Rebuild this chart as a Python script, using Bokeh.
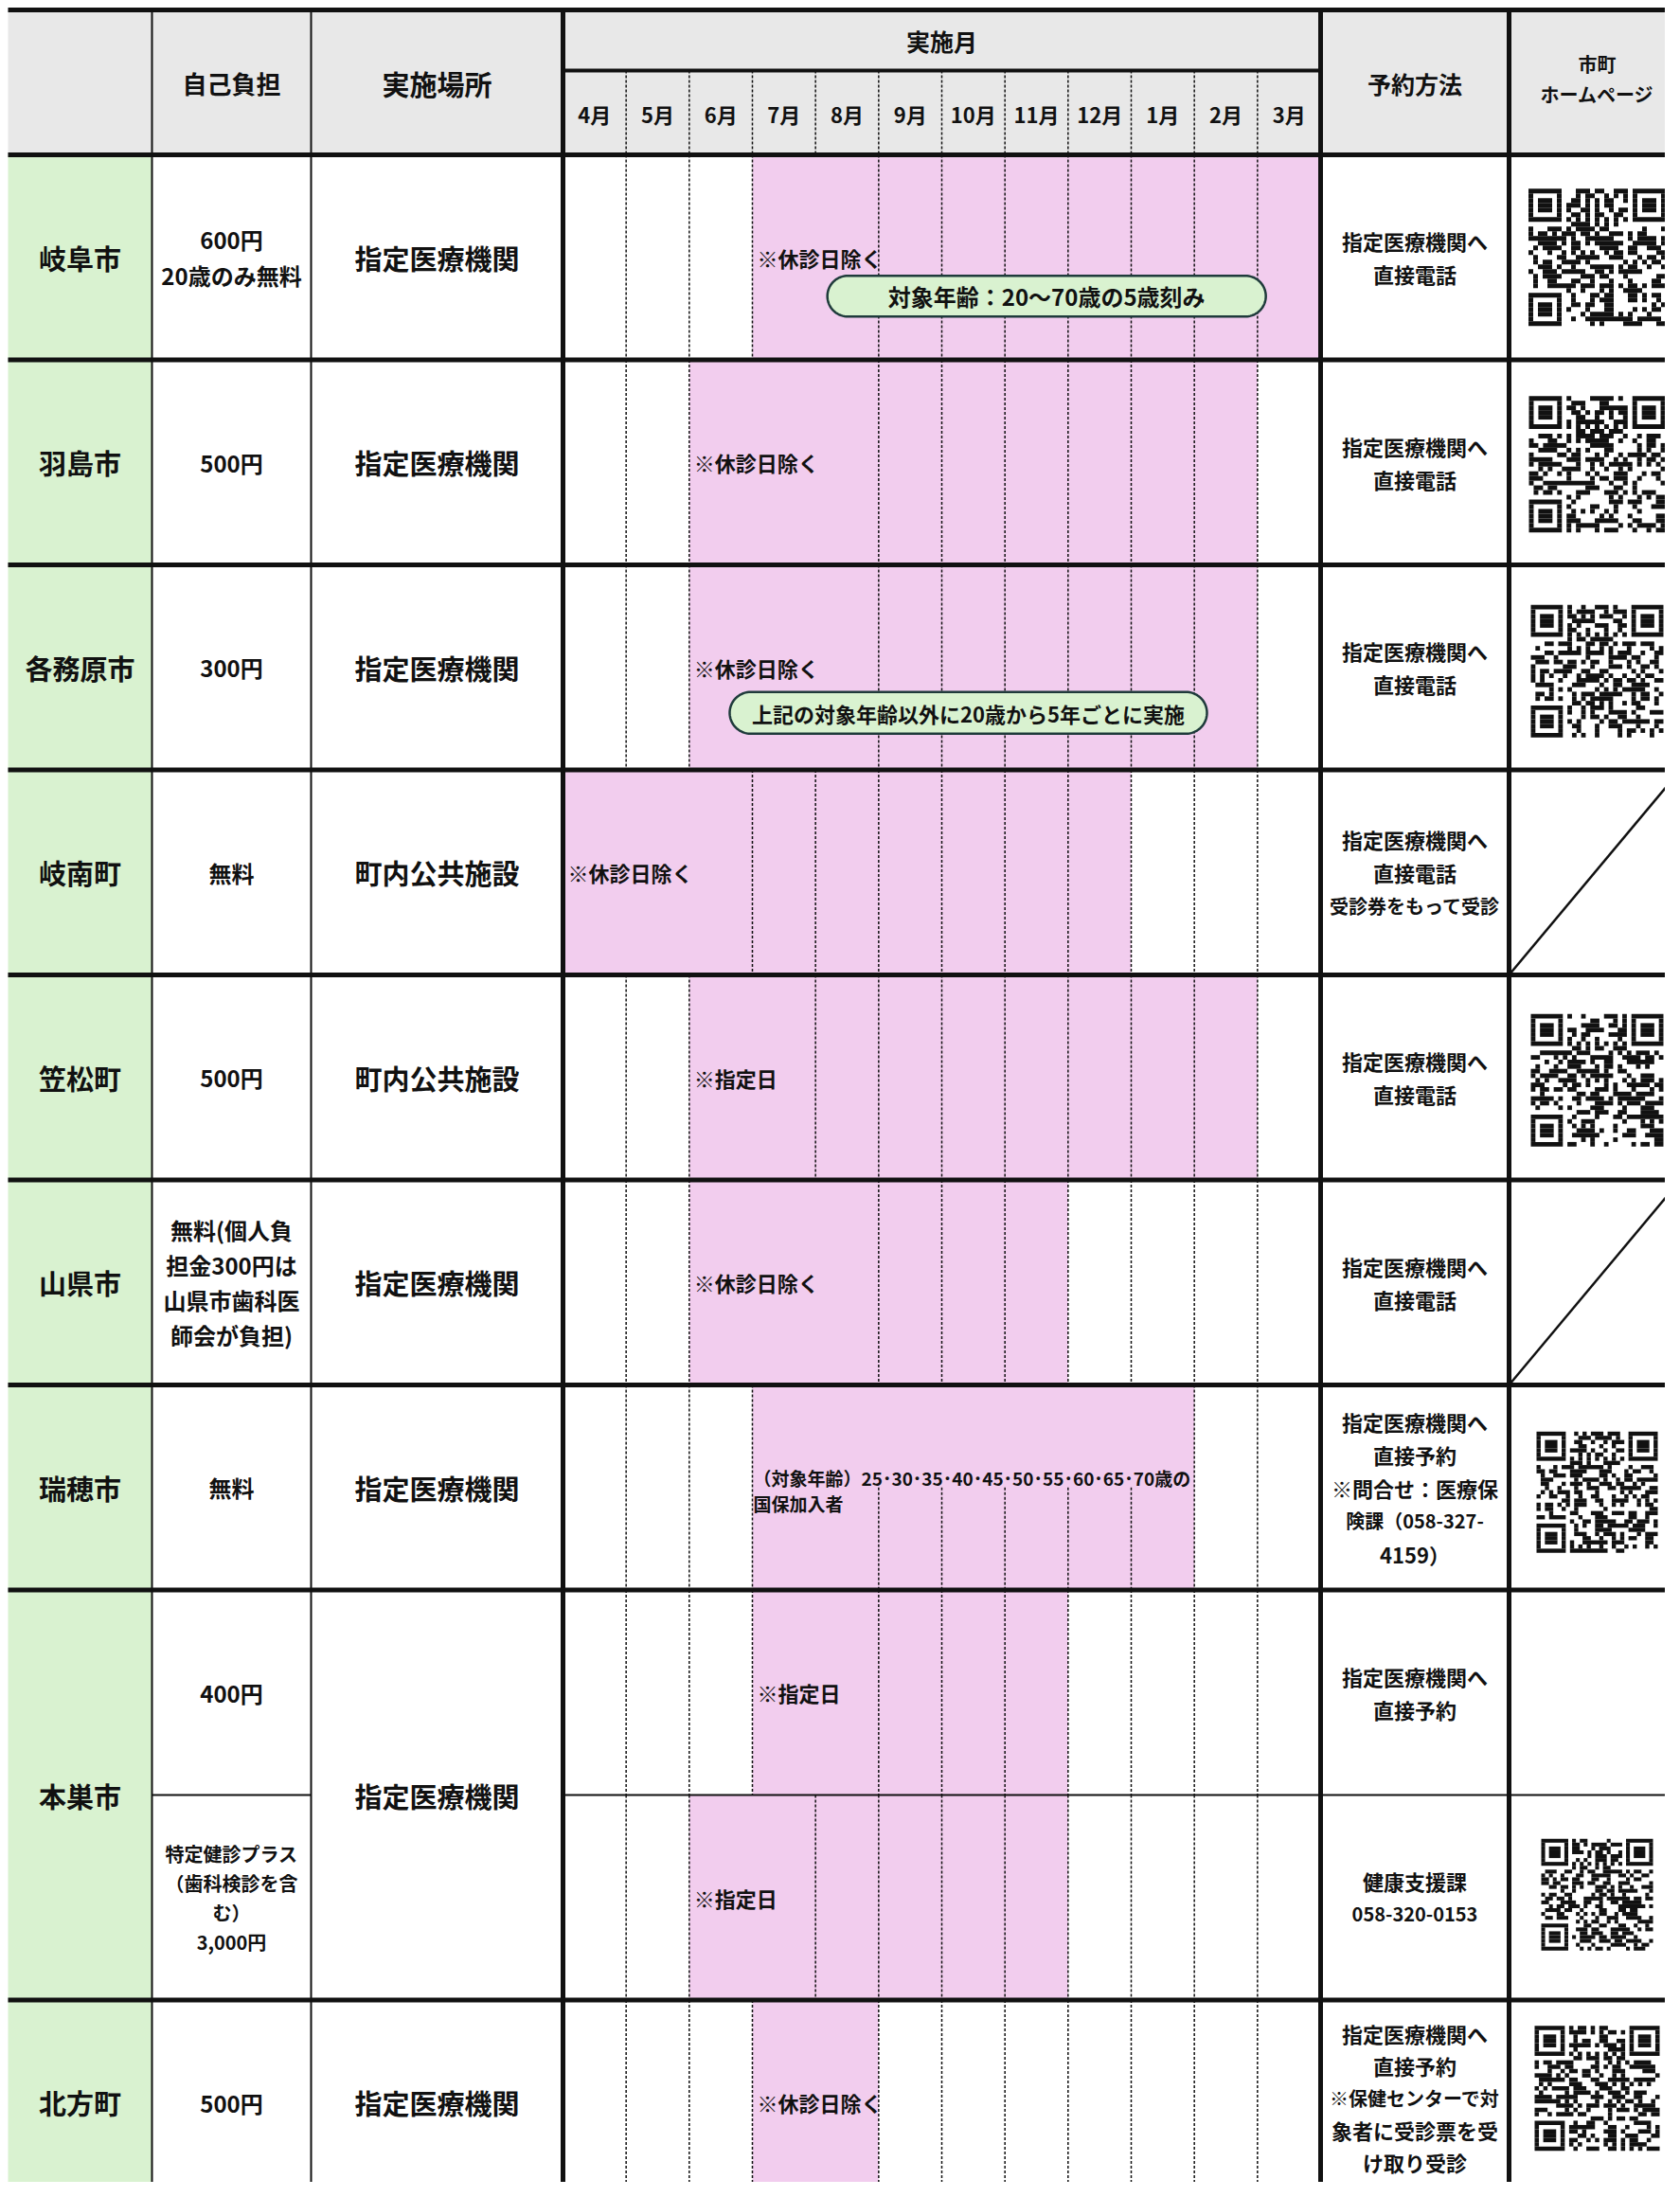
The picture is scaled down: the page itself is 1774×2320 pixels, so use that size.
from bokeh.plotting import figure
from bokeh.models import Range1d
from bokeh.embed import file_html
from bokeh.resources import INLINE
from bokeh.core.properties import value
import numpy as np

# ---------------- data ----------------
months = ["4月", "5月", "6月", "7月", "8月", "9月", "10月", "11月", "12月", "1月", "2月", "3月"]
municipalities = ["岐阜市", "羽島市", "各務原市", "岐南町", "笠松町", "山県市", "瑞穂市", "本巣市", "北方町"]
muni_rows = [1, 1, 1, 1, 1, 1, 1, 2, 1]
places = ["指定医療機関", "指定医療機関", "指定医療機関", "町内公共施設", "町内公共施設",
          "指定医療機関", "指定医療機関", "指定医療機関", "指定医療機関"]

# one entry per table line (本巣市 has two lines)
band_muni = [0, 1, 2, 3, 4, 5, 6, 7, 7, 8]
fees = [["600円", "20歳のみ無料"], ["500円"], ["300円"], ["無料"], ["500円"],
        ["無料(個人負", "担金300円は", "山県市歯科医", "師会が負担)"], ["無料"], ["400円"],
        ["特定健診プラス", "（歯科検診を含", "む）", "3,000円"], ["500円"]]
period_start = [3, 2, 2, 0, 2, 2, 3, 3, 2, 3]   # index into months
period_end = [11, 10, 10, 8, 10, 7, 9, 7, 7, 4]  # inclusive
period_note = [["※休診日除く"], ["※休診日除く"], ["※休診日除く"], ["※休診日除く"], ["※指定日"],
               ["※休診日除く"], ["（対象年齢）25･30･35･40･45･50･55･60･65･70歳の", "国保加入者"],
               ["※指定日"], ["※指定日"], ["※休診日除く"]]
reservation = [["指定医療機関へ", "直接電話"], ["指定医療機関へ", "直接電話"], ["指定医療機関へ", "直接電話"],
               ["指定医療機関へ", "直接電話", "受診券をもって受診"], ["指定医療機関へ", "直接電話"],
               ["指定医療機関へ", "直接電話"],
               ["指定医療機関へ", "直接予約", "※問合せ：医療保", "険課（058-327-", "4159）"],
               ["指定医療機関へ", "直接予約"], ["健康支援課", "058-320-0153"],
               ["指定医療機関へ", "直接予約", "※保健センターで対", "象者に受診票を受", "け取り受診"]]
homepage = ["qr", "qr", "qr", "none_slash", "qr", "none_slash", "qr", "blank", "qr", "qr"]
pill_band = [0, 2]
pill_text = ["対象年齢：20〜70歳の5歳刻み", "上記の対象年齢以外に20歳から5年ごとに実施"]

# ---------------- layout / style ----------------
FONT = "Noto Sans CJK JP"
COLS = [8, 160, 328, 594, 1394, 1593, 1800]
Y_TOP, Y_SUB, Y_HEAD, UNIT = 10, 74, 163, 216.5
MW = (COLS[4] - COLS[3]) / 12.0
GRAY, GREEN, PINK = "#e8e8e8", "#d9f2d0", "#f2cdee"
INK = "#111111"
HP_CX = 1686

# overflow of the note text hides month borders (as in the spreadsheet)
hide_full = [1, 2, 2, 2, 1, 2, 1, 1, 1, 1]
hide_top = [1, 2, 2, 2, 1, 2, 6, 1, 1, 1]
fee_size = [24, 24, 24, 24, 24, 24, 24, 24, 20, 24]
fee_gap = [38, 37, 37, 37, 37, 37, 37, 37, 31, 37]
res_gap = [35, 35, 35, 35, 35, 35, 35, 35, 35, 34]
res_dy = [0, 0, 0, 0, 0, 0, 0, 0, 0, -5]
qr_size = [145, 144, 140, 0, 140, 0, 128, 0, 118, 132]
qr_dy = [0, 2, 4, 0, 3, 0, 5, 0, -3, -15]
pill_cx = [7.66, 6.42]
pill_w = [463, 504]
pill_h = [43, 44]
pill_dy = [41, 48]
pill_fs = [24, 22]

muni_top = []
t = Y_HEAD
for w in muni_rows:
    muni_top.append(t)
    t += w * UNIT
muni_bot = [muni_top[i] + muni_rows[i] * UNIT for i in range(len(muni_rows))]
band_top = []
seen = {}
for m in band_muni:
    k = seen.get(m, 0)
    band_top.append(muni_top[m] + k * UNIT)
    seen[m] = k + 1
band_bot = [b + UNIT for b in band_top]
band_mid = [b + UNIT / 2 for b in band_top]

p = figure(width=1758, height=2304, x_range=Range1d(0, 1758), y_range=Range1d(2304, 0),
           output_backend="svg", toolbar_location=None, min_border=0,
           x_axis_location=None, y_axis_location=None, outline_line_color=None,
           background_fill_color="white", border_fill_color="white")
for g in p.grid:
    g.visible = False


def txt(xs, ys, texts, size, align="center", color=INK):
    p.text(x=xs, y=ys, text=texts, text_font=value(FONT), text_font_size=f"{size}px",
           text_font_style="bold", text_align=align, text_baseline="middle", text_color=color)


def lines_at(cx, cy, lines, gap):
    n = len(lines)
    return [cx] * n, [cy + (i - (n - 1) / 2) * gap for i in range(n)]


# fills
p.quad(left=[COLS[0]], right=[COLS[-1]], top=[Y_TOP], bottom=[Y_HEAD], fill_color=GRAY, line_color=None)
p.quad(left=[COLS[0]] * len(muni_top), right=[COLS[1]] * len(muni_top), top=muni_top, bottom=muni_bot,
       fill_color=GREEN, line_color=None)
p.quad(left=[COLS[3] + s * MW for s in period_start], right=[COLS[3] + (e + 1) * MW for e in period_end],
       top=band_top, bottom=band_bot, fill_color=PINK, line_color=None)

# dashed month borders
dx0, dy0, dx1, dy1 = [], [], [], []
for m in range(1, 12):
    x = COLS[3] + m * MW
    dx0.append(x); dx1.append(x); dy0.append(Y_SUB); dy1.append(Y_HEAD)
for b in range(len(band_muni)):
    s = period_start[b]
    for m in range(1, 12):
        x = COLS[3] + m * MW
        if s < m <= s + hide_full[b]:
            continue
        y0 = band_mid[b] if s < m <= s + hide_top[b] else band_top[b]
        dx0.append(x); dx1.append(x); dy0.append(y0); dy1.append(band_bot[b])
p.segment(x0=dx0, y0=dy0, x1=dx1, y1=dy1, line_color=INK, line_width=1.5, line_dash="3 2")

# solid borders
ybot = 2330
p.segment(x0=[COLS[1], COLS[2]], y0=[Y_TOP] * 2, x1=[COLS[1], COLS[2]], y1=[ybot] * 2,
          line_color=INK, line_width=2)
p.segment(x0=[COLS[3], COLS[4], COLS[5]], y0=[Y_TOP] * 3, x1=[COLS[3], COLS[4], COLS[5]], y1=[ybot] * 3,
          line_color=INK, line_width=5)
hy = [Y_TOP, Y_HEAD] + muni_bot[:-1]
p.segment(x0=[COLS[0]] * len(hy), y0=hy, x1=[COLS[-1]] * len(hy), y1=hy, line_color=INK, line_width=5)
p.segment(x0=[COLS[3]], y0=[Y_SUB], x1=[COLS[4]], y1=[Y_SUB], line_color=INK, line_width=4)
sub_y = [band_top[b] for b in range(1, len(band_muni)) if band_muni[b] == band_muni[b - 1]]
for y in sub_y:
    p.segment(x0=[COLS[1], COLS[3]], y0=[y, y], x1=[COLS[2], COLS[-1]], y1=[y, y], line_color=INK, line_width=2)

# header texts
txt([(COLS[1] + COLS[2]) / 2], [87], ["自己負担"], 26)
txt([(COLS[2] + COLS[3]) / 2], [87], ["実施場所"], 29)
txt([(COLS[3] + COLS[4]) / 2], [42], ["実施月"], 25)
txt([COLS[3] + (i + 0.5) * MW for i in range(12)], [119] * 12, months, 22)
txt([(COLS[4] + COLS[5]) / 2], [87], ["予約方法"], 25)
txt([HP_CX, HP_CX], [67, 99], ["市町", "ホームページ"], 20)

# municipality names and places
mcy = [(muni_top[i] + muni_bot[i]) / 2 for i in range(len(municipalities))]
txt([(COLS[0] + COLS[1]) / 2] * len(mcy), mcy, municipalities, 29)
txt([(COLS[2] + COLS[3]) / 2] * len(mcy), mcy, places, 29)

# per-line content
for b in range(len(band_muni)):
    xs, ys = lines_at((COLS[1] + COLS[2]) / 2, band_mid[b], fees[b], fee_gap[b])
    txt(xs, ys, fees[b], fee_size[b])
    rl = reservation[b]
    xs, ys = lines_at((COLS[4] + COLS[5]) / 2, band_mid[b] + res_dy[b], rl, res_gap[b])
    for x, y, s in zip(xs, ys, rl):
        txt([x], [y], [s], 20 if len(s) >= 9 else 22)
    note = period_note[b]
    nx = COLS[3] + period_start[b] * MW
    if len(note) == 1:
        txt([nx + 5], [band_mid[b]], note, 22, align="left")
    else:
        txt([nx + 1, nx + 1], [band_mid[b] - 10, band_mid[b] + 17], note, 19, align="left")

# pills
for k, b in enumerate(pill_band):
    cx = COLS[3] + pill_cx[k] * MW
    cy = band_mid[b] + pill_dy[k]
    r = pill_h[k] / 2
    hw = pill_w[k] / 2 - r
    a1 = np.linspace(-np.pi / 2, np.pi / 2, 40)
    a2 = np.linspace(np.pi / 2, 3 * np.pi / 2, 40)
    px = np.concatenate([cx + hw + r * np.cos(a1), cx - hw + r * np.cos(a2)])
    py = np.concatenate([cy + r * np.sin(a1), cy + r * np.sin(a2)])
    p.patch(x=list(px), y=list(py), fill_color=GREEN, line_color="#1f3b3b", line_width=2.5)
    txt([cx], [cy], [pill_text[k]], pill_fs[k])


# QR-like codes (pictures of the homepage links)
def qr_grid(seed, n=29):
    g = [[0] * n for _ in range(n)]
    for i in range(n):
        for j in range(n):
            h = (i * 374761393 + j * 668265263 + seed * 2246822519) & 0xFFFFFFFF
            h = ((h ^ (h >> 13)) * 1274126177) & 0xFFFFFFFF
            h ^= h >> 16
            g[i][j] = (h >> 5) & 1

    def finder(r0, c0):
        for a in range(-1, 8):
            for c in range(-1, 8):
                r, cc = r0 + a, c0 + c
                if 0 <= r < n and 0 <= cc < n:
                    on = (0 <= a <= 6 and 0 <= c <= 6 and
                          (a in (0, 6) or c in (0, 6) or (2 <= a <= 4 and 2 <= c <= 4)))
                    g[r][cc] = 1 if on else 0
    finder(0, 0); finder(0, n - 7); finder(n - 7, 0)
    for k in range(8, n - 8):
        g[6][k] = 1 - k % 2
        g[k][6] = 1 - k % 2
    return g


ql, qr_, qt, qb = [], [], [], []
sx0, sy0, sx1, sy1 = [], [], [], []
for b in range(len(band_muni)):
    if homepage[b] == "qr":
        n = 29
        size = qr_size[b]
        m = size / n
        x0 = HP_CX - size / 2
        y0 = band_mid[b] + qr_dy[b] - size / 2
        g = qr_grid(b + 3, n)
        for i in range(n):
            j = 0
            while j < n:
                if g[i][j]:
                    j1 = j
                    while j1 + 1 < n and g[i][j1 + 1]:
                        j1 += 1
                    ql.append(x0 + j * m); qr_.append(x0 + (j1 + 1) * m)
                    qt.append(y0 + i * m); qb.append(y0 + (i + 1) * m)
                    j = j1 + 1
                else:
                    j += 1
    elif homepage[b] == "none_slash":
        sx0.append(COLS[5]); sy0.append(band_bot[b]); sx1.append(1774); sy1.append(band_top[b])
p.quad(left=ql, right=qr_, top=qt, bottom=qb, fill_color="#111111", line_color=None)
p.segment(x0=sx0, y0=sy0, x1=sx1, y1=sy1, line_color=INK, line_width=2.5)

open("out.html", "w").write(file_html(p, INLINE))
